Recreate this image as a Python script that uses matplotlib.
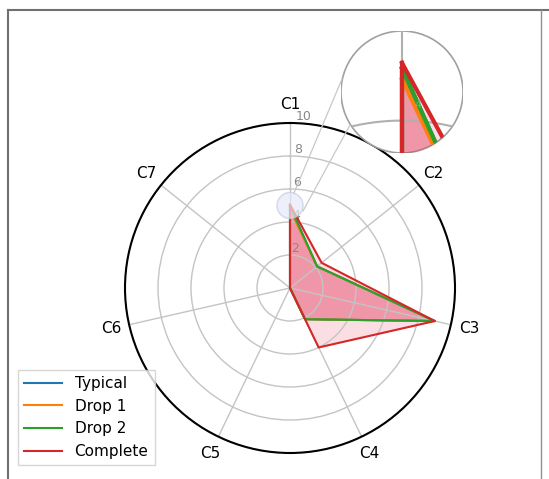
"""Radar chart of C1..C7 scores with a zoomed inset around the C1 tip."""

import numpy as np
import matplotlib

matplotlib.use("Agg")
import matplotlib.pyplot as plt
from matplotlib.lines import Line2D
from matplotlib.patches import Circle

categories = ["C1", "C2", "C3", "C4", "C5", "C6", "C7"]
typical = [4.95, 2.1, 9.0, 2.1, 0.0, 0.0, 0.0]
drop1 = [4.75, 2.1, 9.0, 2.1, 0.0, 0.0, 0.0]
drop2 = [4.95, 2.1, 9.0, 2.1, 0.0, 0.0, 0.0]
complete = [5.05, 2.45, 9.0, 4.0, 0.0, 0.0, 0.0]
series_names = ["Typical", "Drop 1", "Drop 2", "Complete"]
r_ticks = [2, 4, 6, 8, 10]

colors = ["#1f77b4", "#ff7f0e", "#2ca02c", "#d62728"]
fill_color = "#e0284a"
W, H = 549, 479


def to_xy(theta, r):
    # clockwise from north, as on the polar axes
    return np.asarray(r) * np.sin(theta), np.asarray(r) * np.cos(theta)


def px(x, y):
    return x / W, 1 - y / H


fig = plt.figure(figsize=(W / 100, H / 100), dpi=100)

angles = np.linspace(0, 2 * np.pi, len(categories), endpoint=False)
closed = np.append(angles, angles[0])
all_series = [typical, drop1, drop2, complete]

ax = fig.add_axes([125 / W, 1 - 453 / H, 330 / W, 330 / H], projection="polar")
ax.set_theta_zero_location("N")
ax.set_theta_direction(-1)
ax.set_ylim(0, 10)
ax.set_yticks(r_ticks)
ax.set_yticklabels([str(t) for t in r_ticks], fontsize=9, color="#888888")
ax.set_rlabel_position(2)
ax.set_xticks(angles)
ax.set_xticklabels(categories, fontsize=11)
ax.tick_params(axis="x", pad=3)
ax.grid(color="#c4c4c4", lw=1)
ax.spines["polar"].set_color("black")
ax.spines["polar"].set_linewidth(1.5)

for name, vals, color in zip(series_names, all_series, colors):
    v = np.append(vals, vals[0])
    ax.plot(closed, v, color=color, lw=1.5, label=name)
    ax.fill(closed, v, color=fill_color, alpha=0.15)

# small marker circle where the inset zooms in
zoom_r = 5.0
cx, cy = ax.transData.transform((0.0, zoom_r))
ax_x, ax_y = ax.transAxes.inverted().transform((cx, cy))
marker = Circle((ax_x, ax_y), 13 / 330, transform=ax.transAxes,
                fc="#e6eaf8", ec="#c3cbe3", lw=1, alpha=0.7, zorder=5)
ax.add_patch(marker)

# zoomed inset, drawn on cartesian axes clipped to a circle
ins = fig.add_axes([341 / W, 1 - 153 / H, 122 / W, 122 / H])
ins_c = 4.52
half = 1.11
ins.set_xlim(-half, half)
ins.set_ylim(ins_c - half, ins_c + half)
ins.set_aspect("equal")
ins.axis("off")
clip = Circle((0.5, 0.5), 0.5, transform=ins.transAxes, fc="white", ec="#a0a0a0", lw=1.2, zorder=0)
ins.add_patch(clip)

t = np.linspace(0, 2 * np.pi, 400)
artists = []
for rt in r_ticks:
    gx, gy = to_xy(t, rt)
    artists += ins.plot(gx, gy, color="#b0b0b0", lw=1.5)
for a in angles:
    gx, gy = to_xy(np.array([a, a]), np.array([0, 10]))
    artists += ins.plot(gx, gy, color="#b0b0b0", lw=1.5)
for vals, color in zip(all_series, colors):
    v = np.append(vals, vals[0])
    sx, sy = to_xy(closed, v)
    artists += ins.plot(sx, sy, color=color, lw=3)
    artists += ins.fill(sx, sy, color=fill_color, alpha=0.15)
lx, ly = to_xy(np.deg2rad(4), 4.3)
artists.append(ins.text(lx, ly, "4", fontsize=8, color="#999999", ha="center", va="center"))
for art in artists:
    art.set_clip_path(clip)

# connector lines between the marker and the inset
for (x0, y0), (x1, y1) in [((294, 193), (342, 79)), ((303, 211), (350, 125))]:
    fig.add_artist(Line2D([x0 / W, x1 / W], [1 - y0 / H, 1 - y1 / H], color="#c8c8c8", lw=0.9))

fig.legend(loc="lower left", bbox_to_anchor=(18 / W, 14 / H), fontsize=11,
           handlelength=2.5, borderaxespad=0, fancybox=False, edgecolor="#cccccc")

# screenshot frame
fx0, fy0 = px(8, 10)
fx1, _ = px(541, 10)
fig.add_artist(Line2D([fx0, 1], [fy0, fy0], color="#707070", lw=1.5))
fig.add_artist(Line2D([fx0, fx0], [fy0, 0], color="#707070", lw=1.5))
fig.add_artist(Line2D([fx1, fx1], [fy0, 0], color="#909090", lw=1.0))

fig.savefig("out.png", dpi=100)
